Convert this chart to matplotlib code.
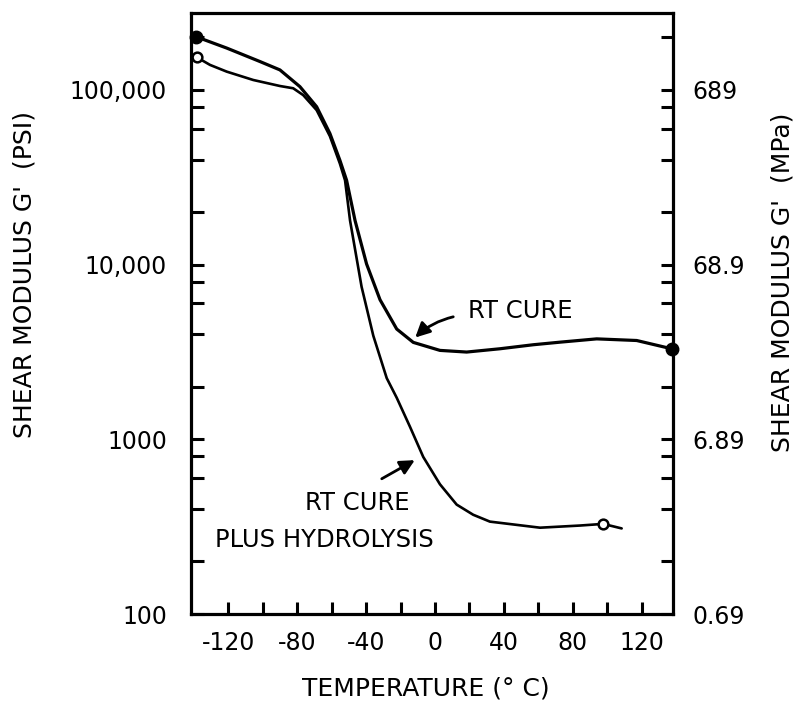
import matplotlib
matplotlib.use("Agg")
import matplotlib.pyplot as plt
from matplotlib.ticker import FixedLocator, NullFormatter

# values (temperature in C, G' in psi)
rt_temp = [-138.8, -120.9, -101.6, -90.0, -78.4, -68.7, -61.0, -55.2, -51.3,
           -46.4, -39.7, -31.9, -22.2, -12.6, 2.9, 18.4, 37.7, 57.1, 72.6,
           93.9, 117.1, 137.4]
rt_mod = [202000, 173800, 145500, 130300, 104500, 80200, 56400, 39600, 30400,
          17900, 10090, 6300, 4280, 3590, 3230, 3160, 3300, 3480, 3600,
          3760, 3680, 3300]

hyd_temp = [-138.3, -130.6, -120.9, -105.5, -90.0, -82.3, -76.5, -68.7, -61.0,
            -55.2, -52.2, -49.3, -42.6, -35.8, -28.0, -22.2, -14.5, -6.8,
            2.9, 12.6, 22.2, 31.9, 61.0, 84.2, 97.7, 108.4]
hyd_mod = [154000, 139200, 127400, 114100, 105400, 102300, 93500, 76700, 54400,
           37900, 30400, 17900, 7470, 3920, 2240, 1730, 1180, 793,
           553, 423, 370, 338, 312, 321, 328, 309]

psi_ticks = [100, 1000, 10000, 100000]
psi_labels = ["100", "1000", "10,000", "100,000"]
mpa_labels = ["0.69", "6.89", "68.9", "689"]
temp_ticks = [-120, -80, -40, 0, 40, 80, 120]
temp_labels = ["-120", "-80", "-40", "0", "40", "80", "120"]

plt.rcParams['font.family'] = ['DejaVu Sans']
fig = plt.figure(figsize=(7.99, 7.06), dpi=100)
ax = fig.add_axes([0.2387, 0.1303, 0.6036, 0.8517])

ax.plot(rt_temp, rt_mod, color='black', lw=2.3, solid_capstyle='round')
ax.plot(hyd_temp, hyd_mod, color='black', lw=1.9, solid_capstyle='round')
# end markers
ax.plot([rt_temp[0], rt_temp[-1]], [rt_mod[0], rt_mod[-1]], 'o', color='black',
        ms=9, clip_on=False, zorder=5)
ax.plot([hyd_temp[0], hyd_temp[-2]], [hyd_mod[0], hyd_mod[-2]], 'o', mfc='white',
        mec='black', mew=1.8, ms=7, clip_on=False, zorder=5)

ax.set_yscale('log')
ax.set_ylim(100, 277000)
ax.set_xlim(-141.8, 138.2)

minor_y = [m * 10 ** d for d in range(2, 6) for m in (2, 4, 6, 8)]
ax.yaxis.set_major_locator(FixedLocator(psi_ticks))
ax.yaxis.set_minor_locator(FixedLocator(minor_y))
ax.yaxis.set_minor_formatter(NullFormatter())
ax.set_yticklabels(psi_labels)
ax.set_xticks(temp_ticks)
ax.set_xticklabels(temp_labels)
ax.set_xticks([-100, -60, -20, 20, 60, 100], minor=True)

for a in ('x', 'y'):
    ax.tick_params(axis=a, which='both', direction='in', length=9, width=2.2,
                   labelsize=17, top=False)
ax.tick_params(axis='y', which='both', pad=17)
ax.tick_params(axis='x', which='both', pad=12)
for s in ax.spines.values():
    s.set_linewidth(2.3)

ax2 = ax.twinx()
ax2.set_yscale('log')
ax2.set_ylim(ax.get_ylim())
ax2.yaxis.set_major_locator(FixedLocator(psi_ticks))
ax2.yaxis.set_minor_locator(FixedLocator(minor_y))
ax2.yaxis.set_minor_formatter(NullFormatter())
ax2.set_yticklabels(mpa_labels)
ax2.tick_params(axis='y', which='both', direction='in', length=9, width=2.2,
                labelsize=17, pad=14)

ax.set_ylabel("SHEAR MODULUS G'  (PSI)", fontsize=18)
ax.yaxis.set_label_coords(-0.319, 0.564)
ax2.set_ylabel("SHEAR MODULUS G'  (MPa)", fontsize=18)
ax2.yaxis.set_label_coords(1.203, 0.552)
ax.set_xlabel("TEMPERATURE (° C)", fontsize=18)
ax.xaxis.set_label_coords(0.488, -0.104)

ax.text(49.3, 5460, "RT CURE", fontsize=17.5, ha='center', va='center')
ax.annotate("", xy=(-12.6, 3730), xytext=(12.2, 5070),
            arrowprops=dict(arrowstyle='-|>', color='black', lw=2,
                            mutation_scale=22, connectionstyle='arc3,rad=0.15'))
ax.text(-45, 433, "RT CURE", fontsize=17.5, ha='center', va='center')
ax.text(-64.2, 267, "PLUS HYDROLYSIS", fontsize=17.5, ha='center', va='center')
ax.annotate("", xy=(-10.3, 774), xytext=(-32.3, 584),
            arrowprops=dict(arrowstyle='-|>', color='black', lw=2,
                            mutation_scale=22))

fig.savefig("out.png", dpi=100)
